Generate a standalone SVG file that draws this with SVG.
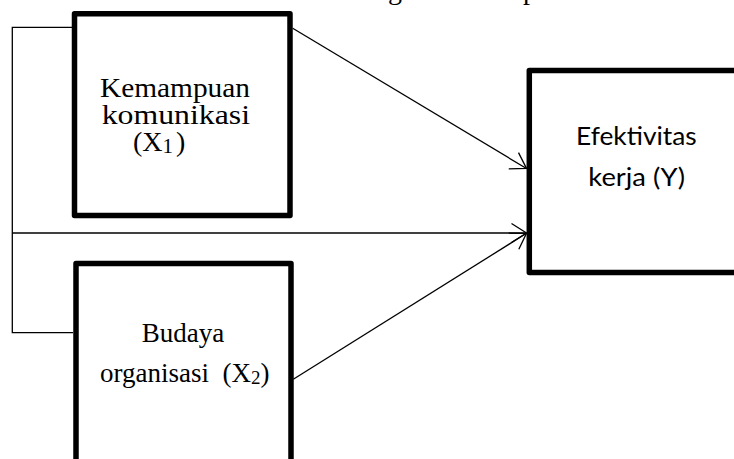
<svg xmlns="http://www.w3.org/2000/svg" width="734" height="459" viewBox="0 0 734 459">
  <defs>
    <style>
      .box { fill: #ffffff; stroke: #000000; stroke-width: 5.5; stroke-linejoin: round; }
      .conn { fill: none; stroke: #000000; stroke-width: 1.3; }
      .serif { font-family: "Liberation Serif", "Times New Roman", serif; font-size: 27px; fill: #000000; }
      .sans { font-family: Lato, "Liberation Sans", sans-serif; font-size: 25px; fill: #000000; }
    </style>
    <marker id="arrow" markerUnits="userSpaceOnUse" markerWidth="20" markerHeight="22" viewBox="-17 -11 18 22" refX="0" refY="0" orient="auto">
      <path d="M-15,-9.5 L0,0 L-15,9.5" fill="none" stroke="#000000" stroke-width="1.3"/>
    </marker>
  </defs>
  <rect width="734" height="459" fill="#ffffff"/>

  <!-- cut-off caption descenders at top -->
  <text class="serif" x="388" y="-1" style="font-size:28px">g</text>
  <text class="serif" x="523" y="-1" style="font-size:28px">p</text>

  <g id="connectors">
    <polyline class="conn" points="72,27.3 12.3,27.3 12.3,332.7 73,332.7"/>
    <line class="conn" x1="12.3" y1="233" x2="526.5" y2="233" marker-end="url(#arrow)"/>
    <line class="conn" x1="292.7" y1="28.3" x2="526.5" y2="168.5" marker-end="url(#arrow)"/>
    <line class="conn" x1="293.3" y1="379.3" x2="526.5" y2="233.3" marker-end="url(#arrow)"/>
  </g>

  <g id="node-x1">
    <rect class="box" x="74.5" y="13.8" width="215.5" height="201.7"/>
    <text class="serif" x="100" y="96.7" style="font-size:28px" textLength="150" lengthAdjust="spacingAndGlyphs">Kemampuan</text>
    <text class="serif" x="101.7" y="123.5" style="font-size:28px" textLength="148.3" lengthAdjust="spacingAndGlyphs">komunikasi</text>
    <text class="serif" x="133" y="150.5" style="font-size:28px">(X<tspan font-size="21" dy="2">1</tspan><tspan dx="3" dy="-2">)</tspan></text>
  </g>

  <g id="node-x2">
    <rect class="box" x="76" y="263.5" width="215" height="240"/>
    <text class="serif" text-anchor="middle" x="183" y="341.7">Budaya</text>
    <text class="serif" x="100" y="381.7" xml:space="preserve" style="white-space:pre">organisasi  (X<tspan font-size="19" dy="2">2</tspan><tspan dy="-2">)</tspan></text>
  </g>

  <g id="node-y">
    <rect class="box" x="529.3" y="70.5" width="240" height="202"/>
    <text class="sans" x="576" y="145" textLength="120.7" lengthAdjust="spacingAndGlyphs">Efektivitas</text>
    <text class="sans" x="588.3" y="185.7" textLength="96.7" lengthAdjust="spacingAndGlyphs">kerja (Y)</text>
  </g>
</svg>
